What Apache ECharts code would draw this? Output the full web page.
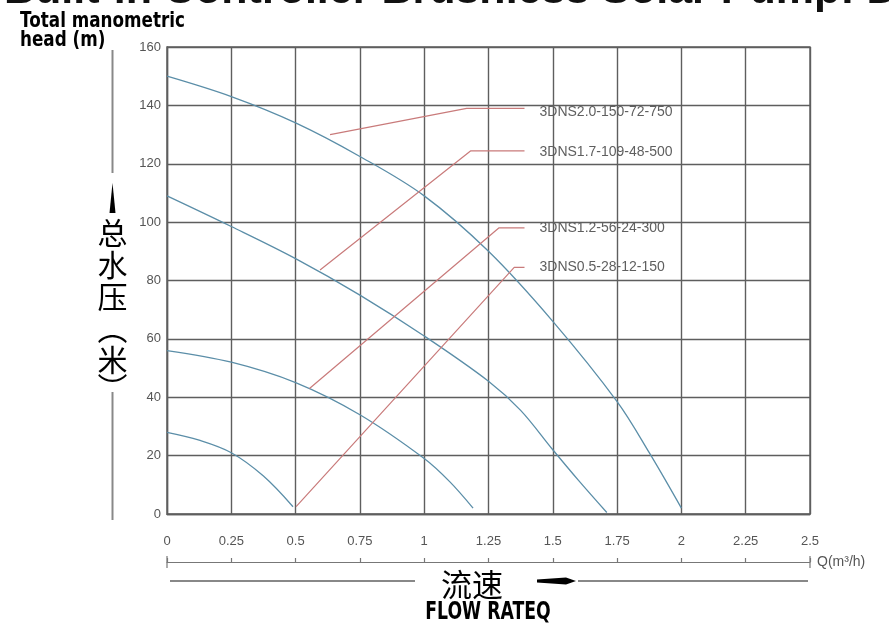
<!DOCTYPE html>
<html>
<head>
<meta charset="utf-8">
<script src="https://cdn.jsdelivr.net/npm/echarts@6/dist/echarts.min.js"></script>
<style>html,body{margin:0;padding:0;background:#fff;}#c{width:889px;height:633px;}</style>
</head>
<body>
<div id="c"></div>
<script>
// Tick labels
var xTickLabels = ['0','0.25','0.5','0.75','1','1.25','1.5','1.75','2','2.25','2.5'];
var yTickLabels = ['0','20','40','60','80','100','120','140','160'];

// Pump curves [flow Q (m3/h), head (m)]
var curve20 = [[0,150],[0.25,143],[0.5,134],[0.75,122.5],[1.0,109],[1.25,90],[1.5,66],[1.75,38.5],[1.875,21],[2.0,2]];
var curve17 = [[0,109],[0.25,98.5],[0.5,87.5],[0.75,75],[1.0,61],[1.25,45.5],[1.375,35.5],[1.5,22],[1.6,11.5],[1.71,0.5]];
var curve12 = [[0,56],[0.25,52],[0.5,45],[0.75,34],[1.0,19],[1.1,11],[1.19,2]];
var curve05 = [[0,28],[0.125,25.3],[0.25,21],[0.375,13],[0.49,2.5]];

// Leader lines to model labels
var lead20 = [[0.634,130],[1.165,139],[1.39,139]];
var lead17 = [[0.595,83.6],[1.18,124.4],[1.39,124.4]];
var lead12 = [[0.554,43],[1.29,98],[1.39,98]];
var lead05 = [[0.502,2.5],[1.35,84.5],[1.39,84.5]];

var modelNames = ['3DNS2.0-150-72-750','3DNS1.7-109-48-500','3DNS1.2-56-24-300','3DNS0.5-28-12-150'];

var curveColor = '#5b8ea8';
var leadColor = '#c97b7b';
var gridColor = '#5e5e5e';

function curveSeries(data){
  return {type:'line', xAxisIndex:0, data:data, smooth:0.35, symbol:'none',
    lineStyle:{color:curveColor, width:1.3}, silent:true, z:3};
}
function leadSeries(name, data, dy){
  return {type:'line', name:name, xAxisIndex:0, data:data, symbol:'none',
    lineStyle:{color:leadColor, width:1.2}, silent:true, z:4,
    endLabel:{show:true, formatter:'{a}', distance:15, offset:[0,dy],
      color:'#5f5f5f', fontSize:14, fontFamily:'Liberation Sans, Arial, sans-serif'}};
}
function cjk(ch, y){
  return {type:'text', silent:true, x:112.5, y:y,
    style:{text:ch, fill:'#000', align:'center', verticalAlign:'middle', font:'30px "Noto Sans CJK SC", sans-serif'}};
}

var chart = echarts.init(document.getElementById('c'), null, {renderer:'canvas'});
chart.setOption({
  animation:false,
  backgroundColor:'#fff',
  grid:{left:167, right:79, top:47, bottom:119, show:true, borderColor:gridColor, borderWidth:1.4, containLabel:false},
  xAxis:[{
    type:'value', min:0, max:2.5, interval:0.25,
    axisLine:{show:true, lineStyle:{color:gridColor, width:1.4}},
    axisTick:{show:false},
    axisLabel:{margin:21, color:'#555', fontSize:13, fontFamily:'Liberation Sans, Arial, sans-serif',
      formatter:function(v){return xTickLabels[Math.round(v/0.25)];}},
    splitLine:{show:true, lineStyle:{color:gridColor, width:1.4}}
  },{
    type:'value', min:0, max:2.5, interval:0.25, position:'bottom', offset:48,
    axisLine:{show:true, lineStyle:{color:'#777', width:1.2}},
    axisTick:{show:true, inside:true, length:4, lineStyle:{color:'#777', width:1.2}},
    axisLabel:{show:false}, splitLine:{show:false},
    name:'Q(m\u00b3/h)', nameLocation:'end', nameGap:7,
    nameTextStyle:{color:'#555', fontSize:14, fontFamily:'Liberation Sans, Arial, sans-serif'}
  }],
  yAxis:{
    type:'value', min:0, max:160, interval:20,
    axisLine:{show:true, lineStyle:{color:gridColor, width:1.4}},
    axisTick:{show:false},
    axisLabel:{margin:6, color:'#555', fontSize:13, fontFamily:'Liberation Sans, Arial, sans-serif',
      formatter:function(v){return yTickLabels[Math.round(v/20)];}},
    splitLine:{show:true, lineStyle:{color:gridColor, width:1.4}}
  },
  series:[
    curveSeries(curve20), curveSeries(curve17), curveSeries(curve12), curveSeries(curve05),
    leadSeries(modelNames[0], lead20, 4),
    leadSeries(modelNames[1], lead17, 1),
    leadSeries(modelNames[2], lead12, 0),
    leadSeries(modelNames[3], lead05, 0)
  ],
  graphic:[
    {type:'text', left:4, top:-30, silent:true,
      style:{text:'Built-in Controller Brushless Solar Pump: D', fill:'#111', font:'bold 43px "Liberation Sans", Arial, sans-serif'}},
    {type:'text', x:20, y:12, scaleX:0.8, silent:true,
      style:{text:'Total manometric\nhead (m)', fill:'#000', lineHeight:19,
        font:'bold 21px "DejaVu Sans", sans-serif'}},
    // vertical axis title decoration
    {type:'line', silent:true, shape:{x1:112.5, y1:50, x2:112.5, y2:173}, style:{stroke:'#888', lineWidth:2}},
    {type:'polygon', silent:true, shape:{points:[[112.5,183],[115.5,213],[109.5,213]]}, style:{fill:'#000'}},
    cjk('总',233), cjk('水',265), cjk('压',297), cjk('︵',329), cjk('米',360), cjk('︶',388),
    {type:'line', silent:true, shape:{x1:112.5, y1:392, x2:112.5, y2:520}, style:{stroke:'#888', lineWidth:2}},
    // ruler end caps
    {type:'line', silent:true, shape:{x1:167, y1:556, x2:167, y2:568}, style:{stroke:'#777', lineWidth:1.2}},
    {type:'line', silent:true, shape:{x1:810, y1:556, x2:810, y2:568}, style:{stroke:'#777', lineWidth:1.2}},
    // flow title decoration
    {type:'line', silent:true, shape:{x1:170, y1:581, x2:415, y2:581}, style:{stroke:'#888', lineWidth:2}},
    {type:'text', silent:true, x:472, y:584, style:{text:'流速', fill:'#000', align:'center', verticalAlign:'middle', font:'31px "Noto Sans CJK SC", sans-serif'}},
    {type:'polygon', silent:true, shape:{points:[[537,579.5],[566,577.5],[576,581],[566,584.5],[537,582.5]]}, style:{fill:'#000'}},
    {type:'line', silent:true, shape:{x1:578, y1:581, x2:808, y2:581}, style:{stroke:'#888', lineWidth:2}},
    {type:'text', silent:true, x:488, y:613, scaleX:0.72, style:{text:'FLOW RATEQ', fill:'#000', align:'center', verticalAlign:'middle',
      font:'bold 24px "DejaVu Sans", sans-serif'}}
  ]
});
</script>
</body>
</html>
